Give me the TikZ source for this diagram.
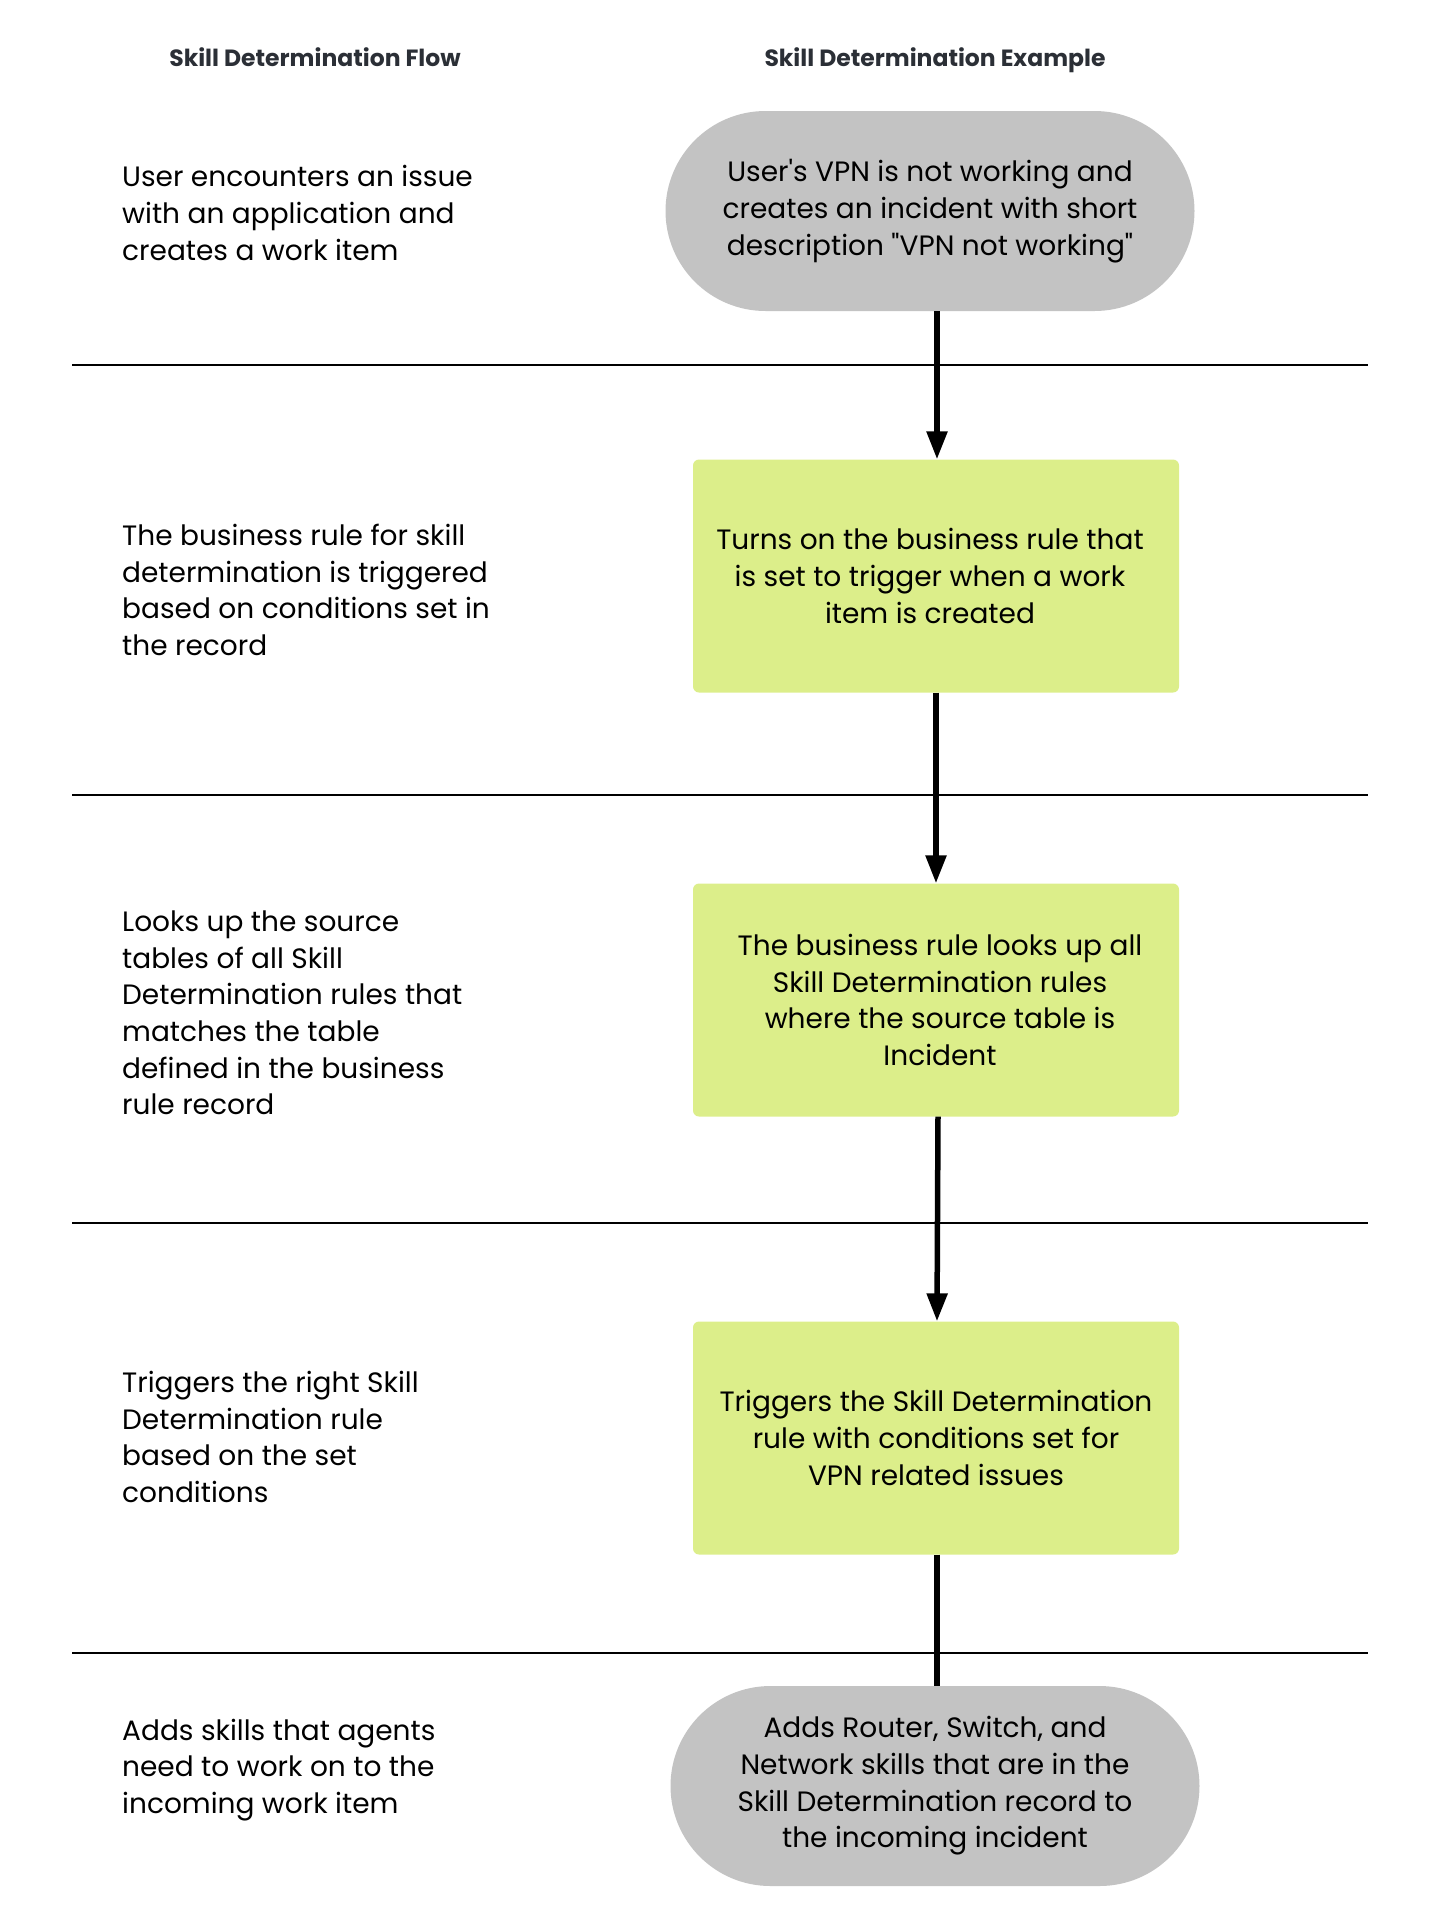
\documentclass[tikz,border=0pt]{standalone}
\usepackage{fontspec}
\setmainfont{Poppins}
\usetikzlibrary{arrows.meta}
\definecolor{stadgray}{RGB}{195,195,195}
\definecolor{boxgreen}{RGB}{220,238,138}
\definecolor{titlegray}{RGB}{43,47,54}
\tikzset{
  body/.style={font=\fontsize{28}{36.7}\selectfont, inner sep=0pt, align=left, anchor=west},
  title/.style={font=\fontsize{23.5}{26}\selectfont\bfseries, text=titlegray, inner sep=0pt, anchor=base},
  stadium/.style={fill=stadgray, rounded corners=100pt, minimum width=529pt, minimum height=200pt, inner sep=0pt, align=center, font=\fontsize{28}{36.7}\selectfont},
  greenbox/.style={fill=boxgreen, rounded corners=6pt, minimum width=486pt, minimum height=233pt, inner sep=0pt, align=center, font=\fontsize{28}{36.7}\selectfont},
  sep/.style={line width=1.5pt},
  flow/.style={line width=5.5pt, -{Triangle[width=20pt,length=28pt]}},
  flowplain/.style={line width=5.5pt}
}
\begin{document}
\begin{tikzpicture}[x=1pt,y=-1pt]
\useasboundingbox (0,0) rectangle (1440,1920);
% titles
\node[title] (t1) at (315,66) {Skill Determination Flow};
\node[title] (t2) at (935,66) {Skill Determination Example};
% separators
\draw[sep] (72,365) -- (1368,365);
\draw[sep] (72,795) -- (1368,795);
\draw[sep] (72,1223) -- (1368,1223);
\draw[sep] (72,1653) -- (1368,1653);
% left texts
\node[body] (l1) at (122,213) {User encounters an issue\\with an application and\\creates a work item};
\node[body] (l2) at (122,590) {The business rule for skill\\determination is triggered\\based on conditions set in\\the record};
\node[body] (l3) at (122,1013) {Looks up the source\\tables of all Skill\\Determination rules that\\matches the table\\defined in the business\\rule record};
\node[body] (l4) at (122,1437) {Triggers the right Skill\\Determination rule\\based on the set\\conditions};
\node[body] (l5) at (122,1770) {Adds skills that agents\\need to work on to the\\incoming work item};
% right column
\node[stadium] (s1) at (930,211) {User\textquotesingle s VPN is not working and\\creates an incident with short\\description \textquotedbl VPN not working\textquotedbl};
\node[greenbox] (b2) at (936,576) {\hspace*{-12pt}Turns on the business rule that\\\hspace*{-12pt}is set to trigger when a work\\\hspace*{-12pt}item is created};
\node[greenbox] (b3) at (936,1000) {\hspace*{8pt}The business rule looks up all\\\hspace*{8pt}Skill Determination rules\\\hspace*{8pt}where the source table is\\\hspace*{8pt}Incident};
\node[greenbox] (b4) at (936,1438) {Triggers the Skill Determination\\rule with conditions set for\\VPN related issues};
\node[stadium] (s5) at (935,1786) {Adds Router, Switch, and\\Network skills that are in the\\Skill Determination record to\\the incoming incident};
% connectors
\draw[flow] (s1.south -| 937,0) -- (b2.north -| 937,0);
\draw[flow] (b2.south -| 936,0) -- (b3.north -| 936,0);
\draw[flow] (b3.south -| 938,0) -- (b4.north -| 937,0);
\draw[flowplain] (b4.south -| 937,0) -- (s5.north -| 937,0);
\end{tikzpicture}
\end{document}
